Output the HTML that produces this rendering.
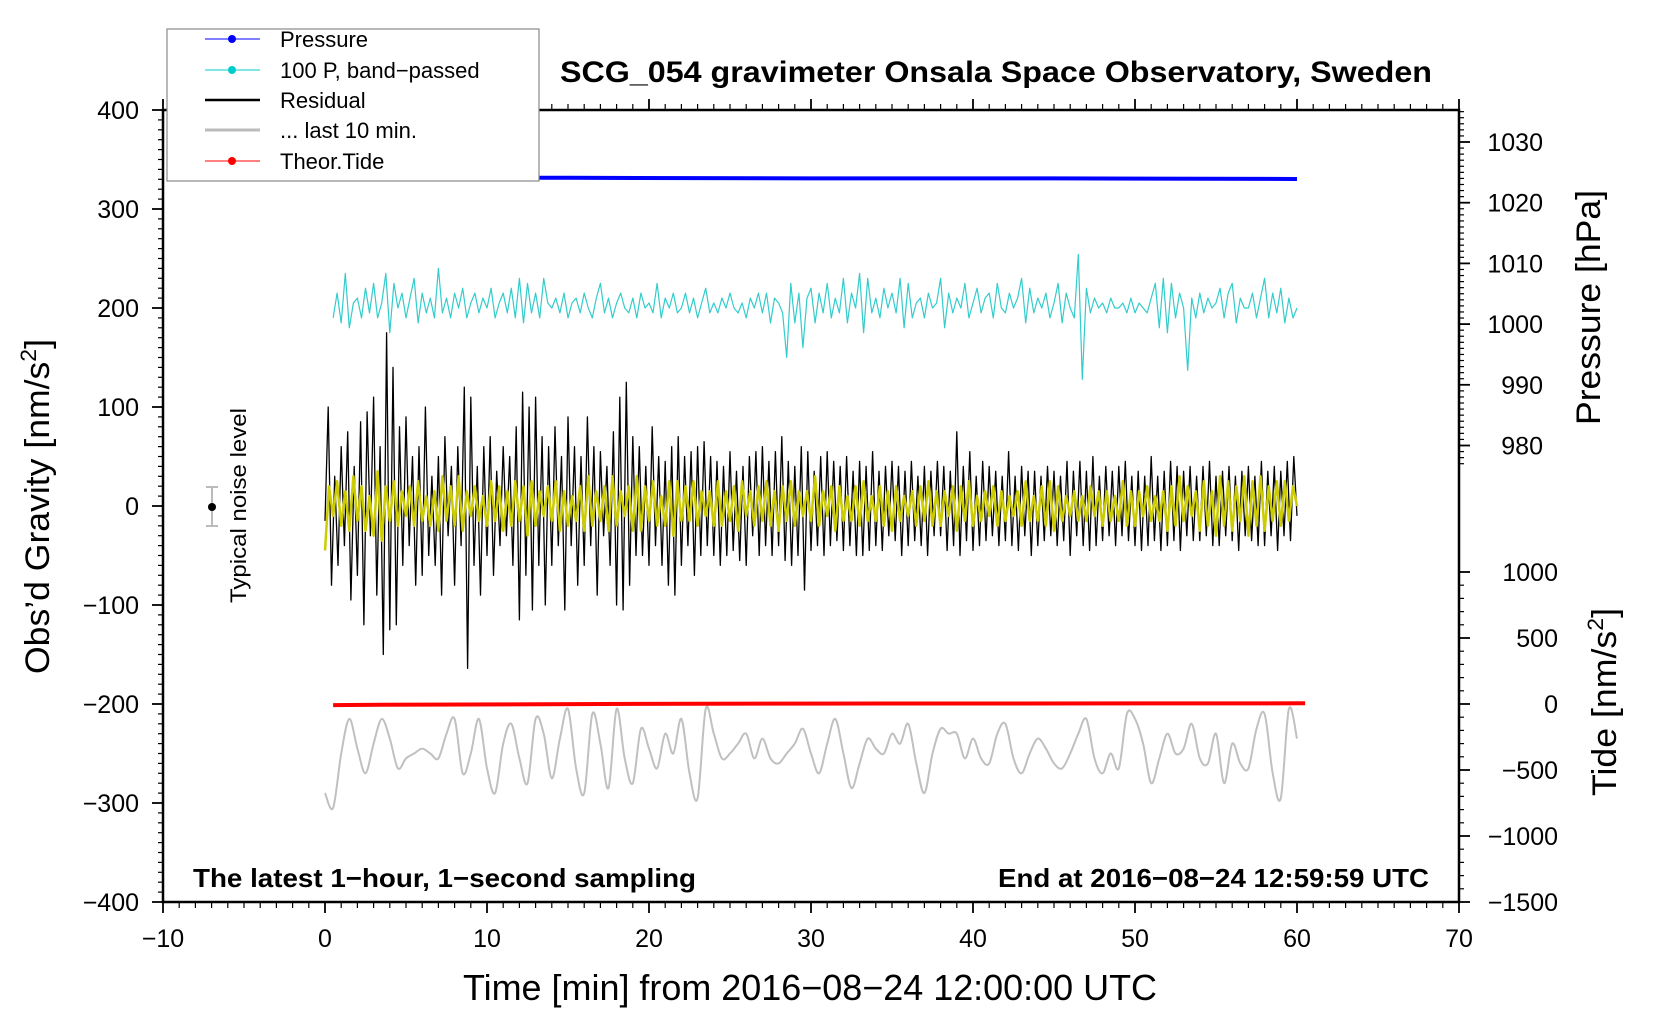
<!DOCTYPE html>
<html><head><meta charset="utf-8"><title>SCG_054 gravimeter</title>
<style>
html,body{margin:0;padding:0;background:#fff;}
svg{display:block;font-family:"Liberation Sans",Arial,sans-serif;}
</style></head>
<body>
<svg id="chart" width="1660" height="1020" viewBox="0 0 1660 1020" xmlns="http://www.w3.org/2000/svg">
<rect x="0" y="0" width="1660" height="1020" fill="#fff"/>
<g id="ticks"></g>
<g id="series"></g>
<rect x="163" y="110" width="1296" height="792" fill="none" stroke="#000" stroke-width="2.5"/>
<text x="560" y="82" font-size="30" font-weight="bold" textLength="872" lengthAdjust="spacingAndGlyphs">SCG_054 gravimeter Onsala Space Observatory, Sweden</text>
<text x="193" y="887" font-size="26" font-weight="bold" textLength="503" lengthAdjust="spacingAndGlyphs">The latest 1−hour, 1−second sampling</text>
<text x="998" y="887" font-size="26" font-weight="bold" textLength="431" lengthAdjust="spacingAndGlyphs">End at 2016−08−24 12:59:59 UTC</text>
<text x="463" y="1000" font-size="36" textLength="694" lengthAdjust="spacingAndGlyphs">Time [min] from 2016−08−24 12:00:00 UTC</text>
<text transform="translate(49,674) rotate(-90)" font-size="34" textLength="335" lengthAdjust="spacingAndGlyphs">Obs’d Gravity [nm/s<tspan font-size="22" dy="-13">2</tspan><tspan dy="13">]</tspan></text>
<text transform="translate(1600,425) rotate(-90)" font-size="34" textLength="235" lengthAdjust="spacingAndGlyphs">Pressure [hPa]</text>
<text transform="translate(1616,796) rotate(-90)" font-size="34" textLength="188" lengthAdjust="spacingAndGlyphs">Tide [nm/s<tspan font-size="22" dy="-13">2</tspan><tspan dy="13">]</tspan></text>
<g>
<line x1="212" y1="487" x2="212" y2="526" stroke="#bbb" stroke-width="2"/>
<line x1="206" y1="487" x2="218" y2="487" stroke="#bbb" stroke-width="2"/>
<line x1="206" y1="526" x2="218" y2="526" stroke="#bbb" stroke-width="2"/>
<circle cx="212" cy="507" r="4" fill="#000"/>
<text transform="translate(246,603) rotate(-90)" font-size="22" textLength="195" lengthAdjust="spacingAndGlyphs">Typical noise level</text>
</g>
<g>
<rect x="167" y="29" width="372" height="152" fill="#fff" stroke="#888" stroke-width="1.2"/>
<line x1="205" y1="39" x2="260" y2="39" stroke="#0000ff" stroke-width="1"/>
<circle cx="232" cy="39" r="4" fill="#0000ff"/>
<text x="280" y="47" font-size="22">Pressure</text>
<line x1="205" y1="70" x2="260" y2="70" stroke="#00cccc" stroke-width="1"/>
<circle cx="232" cy="70" r="4" fill="#00cccc"/>
<text x="280" y="78" font-size="22">100 P, band−passed</text>
<line x1="205" y1="100" x2="260" y2="100" stroke="#000" stroke-width="2.5"/>
<text x="280" y="108" font-size="22">Residual</text>
<line x1="205" y1="130" x2="260" y2="130" stroke="#bbb" stroke-width="3"/>
<text x="280" y="138" font-size="22">... last 10 min.</text>
<line x1="205" y1="161" x2="260" y2="161" stroke="#ff0000" stroke-width="1"/>
<circle cx="232" cy="161" r="4" fill="#ff0000"/>
<text x="280" y="169" font-size="22">Theor.Tide</text>
</g>
</svg>
<script>
// ---- tick label arrays ----
const xTicks = [-10, 0, 10, 20, 30, 40, 50, 60, 70];
const yTicks = [400, 300, 200, 100, 0, -100, -200, -300, -400];
const pressureTicks = [1030, 1020, 1010, 1000, 990, 980];
const tideTicks = [1000, 500, 0, -500, -1000, -1500];

// ---- data arrays ----
const residual = [
-15,100,-80,30,-60, 60,-40,75,-95,40, -70,85,-120,95,-30, 110,-90,60,-150,175,
-125,140,-120,80,-60, 90,-40,50,-80,60, -70,100,-50,30,-60, 50,-90,70,-30,40,
-80,60,-40,120,-164, 110,-60,40,-90,60, -50,70,-70,35,-40, 60,-30,50,-60,80,
-115,115,-70,100,-105, 110,-60,70,-100,60, -60,80,-40,50,-105, 90,-40,60,-80,50,
-60,90,-40,60,-90, 55,-30,40,-60,75, -100,110,-105,125,-80, 70,-50,60,-50,40,
-60,80,-40,50,-60, 45,-80,60,-90,70, -60,50,-40,55,-70, 60,-50,65,-40,50,
-50,45,-60,40,-50, 55,-45,35,-55,40, -60,50,-30,55,-50, 60,-40,45,-50,55,
-40,70,-55,45,-60, 40,-50,60,-85,55, -45,35,-40,50,-50, 55,-40,45,-35,40,
-45,50,-40,35,-50, 45,-50,40,-45,55, -40,35,-45,40,-30, 45,-35,40,-50,35,
-40,45,-35,30,-40, 40,-50,35,-30,45, -30,40,-45,35,-40, 75,-50,40,-35,55,
-45,30,-40,45,-35, 40,-30,35,-40,30, -35,55,-40,30,-45, 40,-30,35,-50,35,
-40,30,-35,40,-30, 35,-40,30,-35,45, -50,35,-30,45,-40, 35,-45,50,-40,30,
-35,40,-30,35,-40, 40,-30,45,-35,30, -40,35,-45,30,-40, 50,-35,30,-45,35,
-40,45,-35,40,-45, 35,-30,40,-35,30, -35,40,-30,45,-40, 30,-40,35,-30,40,
-35,30,-45,35,-30, 40,-35,30,-40,45, -40,35,-30,40,-45, 35,-30,45,-35,50, -10];

const filtered = [
-45,20,-10,25, -20,15,-25,30, -15,20,-25,10, -30,35,-35,20, -15,25,-20,15,
-10,20,-20,25, -15,10,-20,15, -25,30,-15,20, -20,30,-25,15, -10,20,-15,10,
-20,25,-15,20, -25,15,-20,25, -15,20,-30,25, -20,15,-10,20, -15,25,-25,15,
-20,10,-15,20, -25,30,-20,15, -15,20,-25,30, -20,15,-10,20, -25,30,-25,20,
-15,25,-20,10, -20,25,-30,25, -15,20,-15,25, -20,15,-10,15, -20,25,-20,15,
-15,20,-25,25, -10,15,-20,20, -15,25,-20,15, -25,20,-15,25, -20,15,-10,15,
-15,30,-20,15, -10,20,-25,20, -15,10,-15,20, -20,25,-15,10, -15,20,-20,15,
-25,20,-15,10, -10,15,-20,20, -15,25,-20,15, -20,15,-10,20, -25,20,-15,25,
-20,10,-15,15, -10,20,-20,15, -15,10,-10,15, -20,25,-15,10, -15,20,-20,25,
-25,20,-15,10, -10,15,-15,10, -15,20,-10,15, -20,15,-15,10, -15,25,-20,15,
-20,15,-10,20, -15,10,-15,15, -25,20,-20,30, -15,20,-10,15, -25,25,-20,15,
-30,30,-20,25, -25,20,-15,30, -30,25,-20,30, -25,20,-15,25, -20,25,-15,20, 0];

const bandPassed = [
190,215, 185,235,180,205, 210,190,220,195, 225,190,205,235, 175,225,200,215,
190,210,230,185, 215,195,210,190, 240,195,210,190, 215,200,220,190, 205,215,195,210,
200,220,190,205, 215,195,220,190, 230,185,225,195, 215,190,230,205, 200,210,195,215,
190,205,210,195, 215,200,190,210, 225,195,210,190, 205,215,200,195, 210,190,215,200,
205,195,225,190, 210,200,215,195, 200,215,195,210, 190,205,220,195, 205,195,210,200,
215,200,195,205, 190,210,200,215, 195,215,185,210, 205,195,150,225, 185,215,160,210,
220,185,215,195, 225,190,210,195, 230,185,215,200, 235,175,230,195, 210,190,220,200,
215,195,230,180, 225,190,205,210, 190,215,200,205, 230,180,215,195, 210,200,225,190,
205,220,195,210, 215,190,225,200, 195,215,200,210, 230,185,220,195, 210,200,215,190,
205,225,185,215, 200,190,254,128, 220,195,210,200, 205,195,210,200, 200,205,195,210,
195,205,200,195, 210,225,180,230, 175,225,190,215, 200,137,210,190, 215,195,210,200,
205,220,190,215, 225,185,210,200, 200,215,190,210, 230,190,215,195, 220,185,210,190, 200];

const last10 = [
-290,-305,-250,-215,-245,-270,-240,-215,-235,-265,-255,-250,-245,-250,-255,-230,-215,-270,-250,-215,
-265,-290,-240,-220,-255,-280,-215,-230,-275,-235,-205,-265,-290,-210,-240,-285,-205,-255,-280,-225,
-245,-265,-230,-250,-215,-270,-295,-205,-230,-255,-250,-240,-230,-255,-235,-255,-260,-250,-240,-225,
-250,-270,-240,-215,-250,-285,-260,-235,-245,-250,-230,-240,-220,-260,-290,-250,-225,-230,-230,-255,
-235,-255,-260,-230,-220,-255,-270,-250,-235,-245,-260,-265,-250,-230,-215,-255,-270,-250,-265,-210,
-215,-240,-280,-255,-230,-250,-245,-220,-255,-260,-230,-280,-240,-260,-265,-225,-210,-270,-295,-205,-235];

const pressureT = [0, 15, 30, 45, 60];
const pressureV = [1024.1, 1024.1, 1024.0, 1024.0, 1023.9];
const tideT = [0.5, 3.5, 23, 40, 60.5];
const tideV = [-8, -6, 2, 4, 5];

// ---- axis functions ----
const X0 = 163, X1 = 1459, Y0 = 110, Y1 = 902;
function xs(t){ return X0 + (t + 10) / 80 * (X1 - X0); }
function ys(v){ return Y0 + (400 - v) / 800 * (Y1 - Y0); }
function yp(p){ return 142 + (1030 - p) * 6.07; }
function yt(v){ return 704 - v * 0.132; }

const NS = 'http://www.w3.org/2000/svg';
const tickG = document.getElementById('ticks');
const serG = document.getElementById('series');
function mk(tag, parent){ const e = document.createElementNS(NS, tag); parent.appendChild(e); return e; }
function tick(x1,y1,x2,y2,w){
  const l = mk('line', tickG);
  l.setAttribute('x1',x1); l.setAttribute('y1',y1); l.setAttribute('x2',x2); l.setAttribute('y2',y2);
  l.setAttribute('stroke','#000'); l.setAttribute('stroke-width', w);
  
  
}
function label(txt,x,y,anchor,name){
  const t = mk('text', tickG);
  t.setAttribute('x',x); t.setAttribute('y',y); t.setAttribute('font-size','25'); t.setAttribute('text-anchor',anchor);
  t.textContent = String(txt).replace('-', '\u2212');
  
  
}
for (let m = -10; m <= 70; m++) {
  const x = xs(m), major = (m % 10 === 0);
  tick(x, Y1, x, Y1 + (major ? 11 : 6), major ? 1.8 : 1.2);
  tick(x, Y0, x, Y0 - (major ? 11 : 6), major ? 1.8 : 1.2);
}
xTicks.forEach(v => label(v, xs(v), 947, 'middle', 'x-tick-label'));
for (let v = -400; v <= 400; v += 10) {
  const y = ys(v), major = (v % 100 === 0);
  tick(X0, y, X0 - (major ? 11 : 5), y, major ? 1.8 : 1.2);
}
yTicks.forEach(v => label(v, 139, ys(v) + 9, 'end', 'y-tick-label'));
for (let p = 977; p <= 1035; p++) {
  const y = yp(p); if (y < Y0) continue;
  const major = (p % 10 === 0);
  tick(X1, y, X1 + (major ? 11 : 5), y, major ? 1.8 : 1.2);
}
pressureTicks.forEach(v => label(v, 1543, yp(v) + 9, 'end', 'pressure-tick-label'));
for (let v = -1500; v <= 1000; v += 100) {
  const y = yt(v), major = (v % 500 === 0);
  tick(X1, y, X1 + (major ? 11 : 5), y, major ? 1.8 : 1.2);
}
tideTicks.forEach(v => label(v, 1558, yt(v) + 9, 'end', 'tide-tick-label'));

function path(pts, color, width, name){
  const p = mk('path', serG);
  p.setAttribute('d', 'M' + pts.map(q => q[0].toFixed(1) + ',' + q[1].toFixed(1)).join('L'));
  p.setAttribute('fill','none'); p.setAttribute('stroke', color); p.setAttribute('stroke-width', width);
  p.setAttribute('stroke-linejoin','round');
  
  
}
function smoothPath(pts, color, width, name){
  let d = 'M' + pts[0][0].toFixed(1) + ',' + pts[0][1].toFixed(1);
  for (let i = 0; i < pts.length - 1; i++) {
    const p0 = pts[Math.max(0, i - 1)], p1 = pts[i], p2 = pts[i + 1], p3 = pts[Math.min(pts.length - 1, i + 2)];
    const c1x = p1[0] + (p2[0] - p0[0]) / 6, c1y = p1[1] + (p2[1] - p0[1]) / 6;
    const c2x = p2[0] - (p3[0] - p1[0]) / 6, c2y = p2[1] - (p3[1] - p1[1]) / 6;
    d += 'C' + c1x.toFixed(1) + ',' + c1y.toFixed(1) + ' ' + c2x.toFixed(1) + ',' + c2y.toFixed(1) + ' ' + p2[0].toFixed(1) + ',' + p2[1].toFixed(1);
  }
  const p = mk('path', serG);
  p.setAttribute('d', d);
  p.setAttribute('fill','none'); p.setAttribute('stroke', color); p.setAttribute('stroke-width', width);
  
  
}
function evenly(arr, t0, t1, ymap){
  const n = arr.length;
  return arr.map((v,i) => [xs(t0 + (t1 - t0) * i / (n - 1)), ymap(v)]);
}
smoothPath(evenly(last10, 0, 60, ys), '#c0c0c0', 2, 'last-10-min-line');
path(pressureT.map((t,i) => [xs(t), yp(pressureV[i])]), '#0000ff', 4, 'pressure-line');
path(evenly(bandPassed, 0.5, 60, ys), '#33cccc', 1.2, 'band-passed-pressure-line');
path(evenly(residual, 0, 60, ys), '#000', 1.3, 'residual-line');
path(evenly(filtered, 0, 60, ys), '#cccc00', 2.5, 'residual-filtered-line');
path(tideT.map((t,i) => [xs(t), yt(tideV[i])]), '#ff0000', 4, 'theoretical-tide-line');
</script>
</body></html>
